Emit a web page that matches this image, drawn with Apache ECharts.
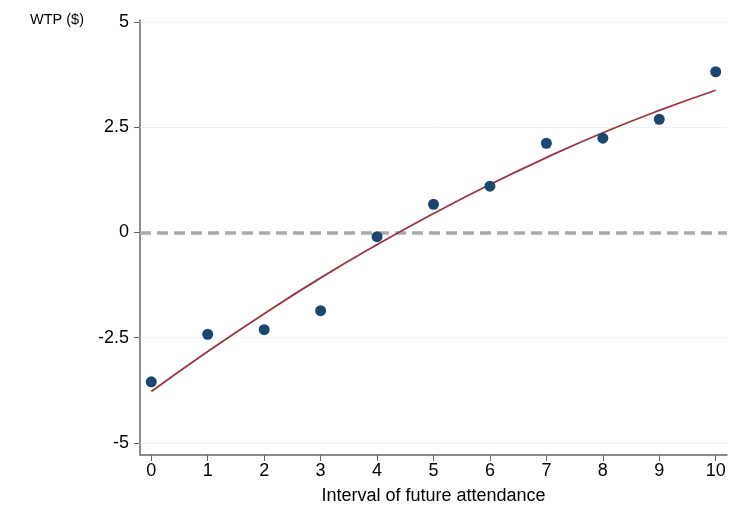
<!DOCTYPE html>
<html><head><meta charset="utf-8">
<script src="https://cdn.jsdelivr.net/npm/echarts@6/dist/echarts.min.js"></script>
<style>html,body{margin:0;padding:0;background:#fff}#c{width:735px;height:523px}</style>
</head><body><div id="c"></div>
<script>
const xCategories = [0,1,2,3,4,5,6,7,8,9,10];
const wtpPoints = [-3.55,-2.42,-2.31,-1.86,-0.10,0.67,1.10,2.12,2.24,2.69,3.82];
const fitValues = [-3.78,-2.83,-1.93,-1.08,-0.29,0.45,1.14,1.78,2.37,2.90,3.38];
const yTicks = [-5,-2.5,0,2.5,5];
const xTicks = [0,1,2,3,4,5,6,7,8,9,10];

const chart = echarts.init(document.getElementById('c'));
const font = 'Liberation Sans, Arial, sans-serif';
const fmt = v => (Math.round(v*10)/10).toString();
chart.setOption({
  animation:false,
  grid:{left:140,top:20,right:8,bottom:68},
  title:{text:'WTP ($)',left:25,top:7,textStyle:{fontFamily:font,fontSize:14.5,fontWeight:'normal',color:'#000'}},
  xAxis:{type:'value',min:-0.2,max:10.2,
    name:'Interval of future attendance',nameLocation:'middle',nameGap:32,
    nameTextStyle:{fontFamily:font,fontSize:18,color:'#000'},
    axisLine:{onZero:false,lineStyle:{color:'#666',width:1.5}},
    axisTick:{customValues:xTicks,length:6,lineStyle:{color:'#666'}},
    axisLabel:{customValues:xTicks,fontFamily:font,fontSize:18,color:'#000',margin:7},
    splitLine:{show:false}},
  yAxis:{type:'value',min:-5.29,max:5.05,
    axisLine:{show:true,onZero:false,lineStyle:{color:'#666',width:1.5}},
    axisTick:{show:true,customValues:yTicks,length:6,lineStyle:{color:'#666'}},
    axisLabel:{customValues:yTicks,formatter:fmt,fontFamily:font,fontSize:18,color:'#000',margin:11},
    splitLine:{show:false}},
  series:[
    {type:'scatter',data:[],silent:true,z:1,
     markLine:{symbol:'none',silent:true,z:1,label:{show:false},
       lineStyle:{color:'#eaf1f3',width:1,type:'solid'},
       data:yTicks.filter(v=>v!==0).map(v=>({yAxis:v}))}},
    {type:'scatter',data:[],silent:true,z:2,
     markLine:{symbol:'none',silent:true,z:2,label:{show:false},
       lineStyle:{color:'#aaaaaa',width:3.5,type:[11,6]},
       data:[{yAxis:0}]}},
    {type:'line',data:xCategories.map((x,i)=>[x,fitValues[i]]),smooth:true,showSymbol:false,
     lineStyle:{color:'#9a353d',width:1.8},z:3},
    {type:'scatter',data:xCategories.map((x,i)=>[x,wtpPoints[i]]),symbolSize:11,
     itemStyle:{color:'#1a476f',opacity:1},z:4}
  ]
});
</script></body></html>
